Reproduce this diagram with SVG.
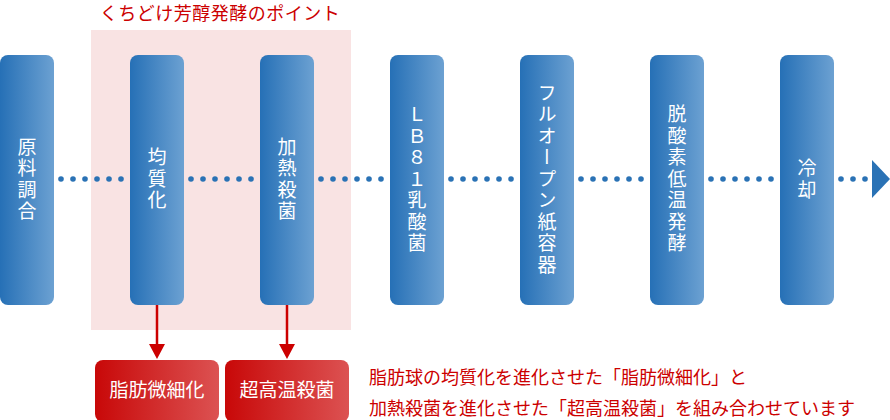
<svg xmlns="http://www.w3.org/2000/svg" width="890" height="420" viewBox="0 0 890 420">
<defs>
<linearGradient id="gb" x1="0" y1="0" x2="1" y2="0">
<stop offset="0" stop-color="#2670b6"/>
<stop offset="1" stop-color="#6ca1d2"/>
</linearGradient>
<linearGradient id="gr" x1="0" y1="0" x2="1" y2="0">
<stop offset="0" stop-color="#c80808"/>
<stop offset="1" stop-color="#dc5252"/>
</linearGradient>
</defs>
<style>
.p{fill:url(#gb)}
.r{fill:url(#gr)}
.vt{font-family:"Noto Sans CJK JP","Noto Sans",sans-serif;font-size:19px;fill:#fff;writing-mode:vertical-rl;text-anchor:middle;letter-spacing:2.5px}
.rt{font-family:"Noto Sans CJK JP","Noto Sans",sans-serif;font-size:19px;fill:#fff;text-anchor:middle}
.red{font-family:"Noto Sans CJK JP","Noto Sans",sans-serif;font-size:18px;fill:#cc0000}
.d{fill:#2a72b5}
</style>
<rect x="91" y="30" width="260" height="300" fill="#f9e3e3"/>
<text class="red" x="220" y="20" text-anchor="middle" font-size="17" letter-spacing="0.5">くちどけ芳醇発酵のポイント</text>
<g id="connectors">
<g class="d">
<circle cx="61" cy="179" r="2.8"/><circle cx="73" cy="179" r="2.8"/><circle cx="85" cy="179" r="2.8"/><circle cx="97" cy="179" r="2.8"/><circle cx="109" cy="179" r="2.8"/><circle cx="121" cy="179" r="2.8"/>
<circle cx="191" cy="179" r="2.8"/><circle cx="203" cy="179" r="2.8"/><circle cx="215" cy="179" r="2.8"/><circle cx="227" cy="179" r="2.8"/><circle cx="239" cy="179" r="2.8"/><circle cx="251" cy="179" r="2.8"/>
<circle cx="321" cy="179" r="2.8"/><circle cx="333" cy="179" r="2.8"/><circle cx="345" cy="179" r="2.8"/><circle cx="357" cy="179" r="2.8"/><circle cx="369" cy="179" r="2.8"/><circle cx="381" cy="179" r="2.8"/>
<circle cx="451" cy="179" r="2.8"/><circle cx="463" cy="179" r="2.8"/><circle cx="475" cy="179" r="2.8"/><circle cx="487" cy="179" r="2.8"/><circle cx="499" cy="179" r="2.8"/><circle cx="511" cy="179" r="2.8"/>
<circle cx="581" cy="179" r="2.8"/><circle cx="593" cy="179" r="2.8"/><circle cx="605" cy="179" r="2.8"/><circle cx="617" cy="179" r="2.8"/><circle cx="629" cy="179" r="2.8"/><circle cx="641" cy="179" r="2.8"/>
<circle cx="711" cy="179" r="2.8"/><circle cx="723" cy="179" r="2.8"/><circle cx="735" cy="179" r="2.8"/><circle cx="747" cy="179" r="2.8"/><circle cx="759" cy="179" r="2.8"/><circle cx="771" cy="179" r="2.8"/>
<circle cx="841" cy="179" r="2.8"/><circle cx="853" cy="179" r="2.8"/><circle cx="865" cy="179" r="2.8"/>
<polygon points="872,160 890,179 872,198"/>
</g>
<g fill="#cc0000" stroke="#cc0000">
<line x1="157" y1="305" x2="157" y2="345" stroke-width="2.5"/>
<polygon points="149,344 165,344 157,359" stroke="none"/>
<line x1="287" y1="305" x2="287" y2="345" stroke-width="2.5"/>
<polygon points="279,344 295,344 287,359" stroke="none"/>
</g>
</g>
<g id="n1"><rect class="p" x="0" y="55" width="54" height="250" rx="8"/><text class="vt" x="27" y="180">原料調合</text></g>
<g id="n2"><rect class="p" x="130" y="55" width="54" height="250" rx="8"/><text class="vt" x="157" y="180">均質化</text></g>
<g id="n3"><rect class="p" x="260" y="55" width="54" height="250" rx="8"/><text class="vt" x="287" y="180">加熱殺菌</text></g>
<g id="n4"><rect class="p" x="390" y="55" width="54" height="250" rx="8"/><text class="vt" x="417" y="180">ＬＢ８１乳酸菌</text></g>
<g id="n5"><rect class="p" x="520" y="55" width="54" height="250" rx="8"/><text class="vt" x="547" y="180">フルオープン紙容器</text></g>
<g id="n6"><rect class="p" x="650" y="55" width="54" height="250" rx="8"/><text class="vt" x="677" y="180">脱酸素低温発酵</text></g>
<g id="n7"><rect class="p" x="780" y="55" width="54" height="250" rx="8"/><text class="vt" x="807" y="180">冷却</text></g>
<g id="n8"><rect class="r" x="95" y="360" width="124" height="62" rx="8"/><text class="rt" x="157" y="397">脂肪微細化</text></g>
<g id="n9"><rect class="r" x="225" y="360" width="124" height="62" rx="8"/><text class="rt" x="287" y="397">超高温殺菌</text></g>
<g id="note">
<text class="red" x="369" y="384">脂肪球の均質化を進化させた「脂肪微細化」と</text>
<text class="red" x="369" y="415">加熱殺菌を進化させた「超高温殺菌」を組み合わせています</text>
</g>
</svg>
